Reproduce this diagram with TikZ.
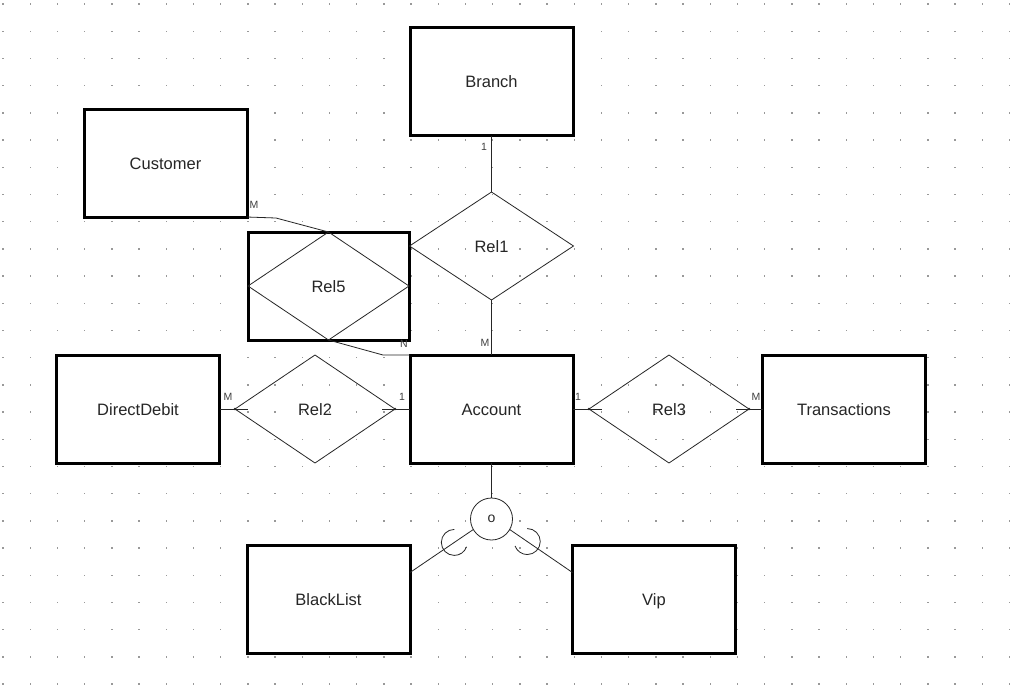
\documentclass[tikz,border=0pt]{standalone}
\usepackage{fontspec}
\setmainfont{Liberation Sans}
\usetikzlibrary{shapes.geometric}
\begin{document}
\begin{tikzpicture}[x=1pt,y=-1pt,
  entity/.style={draw=black, line width=3pt, fill=white, minimum width=163pt,
    minimum height=108pt, inner sep=0pt, outer sep=0pt,
    text height=12pt, text depth=0pt,
    font=\fontsize{16.5}{20}\selectfont, text=black!85},
  relation/.style={diamond, draw=black!85, line width=0.8pt, minimum width=#1,
    minimum height=108pt, inner sep=0pt, outer sep=0pt,
    text height=12pt, text depth=0pt,
    font=\fontsize{16.5}{20}\selectfont, text=black!85},
  link/.style={draw=black!85, line width=0.8pt},
  card/.style={font=\fontsize{10.5}{12}\selectfont, text=black!75, inner sep=0pt},
  isacircle/.style={circle, draw=black!85, line width=0.8pt, fill=white,
    minimum size=42pt, inner sep=0pt, outer sep=0pt,
    font=\fontsize{14}{16}\selectfont, text=black!85}
]
\useasboundingbox (0,0) rectangle (1012,689);
\fill[white] (0,0) rectangle (1012,689);

% dotted background grid
\foreach \i in {0,...,37}
  \foreach \j in {0,...,25}
    \fill[black!40] ({3+27.2*\i-0.7},{4+27.2*\j-0.7}) rectangle ++(1.4,1.4);

% entities
\node[entity] (Branch)       at (491.5,81.5)  {Branch};
\node[entity] (Customer)     at (165.5,163)   {Customer};
\node[entity] (Account)      at (491.5,409)   {Account};
\node[entity] (DirectDebit)  at (138,409)     {DirectDebit};
\node[entity] (Transactions) at (844,409)     {Transactions};
\node[entity] (BlackList)    at (328.5,599.5) {BlackList};
\node[entity] (Vip)          at (654,599.5)   {Vip};

% weak relationship: box with a diamond inside
\node[entity, minimum width=161pt] (Rel5box) at (328.5,286) {};
\node[relation=161pt] (Rel5) at (328.5,286) {Rel5};

% relationships
\node[relation=164pt] (Rel1) at (491.5,246) {Rel1};
\node[relation=160pt] (Rel2) at (315,409)   {Rel2};
\node[relation=160pt] (Rel3) at (669,409)   {Rel3};

% specialisation circle
\node[isacircle] (isa) at (491.5,519) {o};

% connectors
\draw[link] (Branch) -- (Rel1);
\draw[link] (Rel1) -- (Account);

\coordinate (cbend) at (276,218);
\draw[link] (Customer.south east) -- (cbend) -- (Rel5.north);
\coordinate (nbend) at (383,355);
\draw[link] (Rel5.south) -- (nbend) -- (Account.north west);

\draw[link] (DirectDebit.east) -- ([xshift=13pt]Rel2.west);
\draw[link] ([xshift=-13pt]Rel2.east) -- (Account.west);
\draw[link] (Account.east) -- ([xshift=13pt]Rel3.west);
\draw[link] ([xshift=-13pt]Rel3.east) -- (Transactions.west);
\foreach \p in {Rel2.west,Rel2.east,Rel3.west,Rel3.east}
  \fill[black!85] (\p) circle (1.3);

\draw[link] (Account) -- (isa);
\draw[link] (isa.210) -- coordinate[pos=0.3] (cupL) ([yshift=-27pt]BlackList.north east);
\draw[link] (isa.330) -- coordinate[pos=0.28] (cupR) ([yshift=-27pt]Vip.north west);

% subset cups on the specialisation lines
\draw[link] (cupL) ++(-90:13) arc[start angle=-90, end angle=-340, radius=13];
\draw[link] (cupR) ++(-90:13) arc[start angle=-90, end angle=160, radius=13];

% cardinalities
\node[card] (cBranch)  at (484,147) {1};
\node[card] (cCust)    at (254,205) {M};
\node[card] (cRel5)    at (404,344) {N};
\node[card] (cAcc)     at (485,343) {M};
\node[card] (cDD)      at (228,397) {M};
\node[card] (cAccL)    at (402,397) {1};
\node[card] (cAccR)    at (578,397) {1};
\node[card] (cTrans)   at (756,397) {M};
\end{tikzpicture}
\end{document}
